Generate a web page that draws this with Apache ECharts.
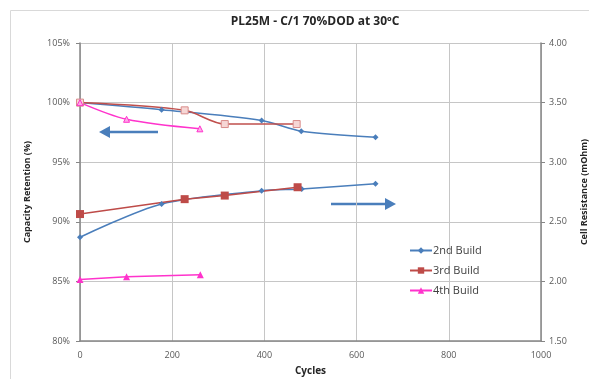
<!DOCTYPE html>
<html>
<head>
<meta charset="utf-8">
<script src="https://cdn.jsdelivr.net/npm/echarts@6/dist/echarts.min.js"></script>
<style>
  html, body { margin: 0; padding: 0; background: #fff; }
  #chart { width: 589px; height: 379px; }
</style>
</head>
<body>
<div id="chart"></div>
<script>
// 容量保持率 (左轴, %)  [cycles, value]
const cap2nd = [[0, 100], [177, 99.4], [394, 98.5], [480, 97.6], [641, 97.1]];
const cap3rd = [[0, 100], [227, 99.35], [314, 98.2], [470, 98.2]];
const cap4th = [[0, 100], [101, 98.6], [260, 97.8]];
// 内阻 (右轴, mOhm)
const res2nd = [[0, 2.37], [177, 2.65], [394, 2.76], [481, 2.775], [641, 2.82]];
const res3rd = [[0, 2.565], [227, 2.69], [314, 2.72], [472, 2.79]];
const res4th = [[0, 2.015], [101, 2.04], [261, 2.055]];

const xTicks = [0, 200, 400, 600, 800, 1000];
const capTicks = [80, 85, 90, 95, 100, 105];
const resTicks = [1.5, 2.0, 2.5, 3.0, 3.5, 4.0];

const blue = "#4a7ebb";
const red = "#be4b48";
const pink = "#ff33cc";
const labelColor = "#595959";

const chart = echarts.init(document.getElementById("chart"));

chart.setOption({
  animation: false,
  textStyle: { fontFamily: "Open Sans" },
  title: {
    text: "PL25M - C/1 70%DOD at 30ºC",
    left: 310,
    top: 11,
    textAlign: "center",
    textStyle: { fontSize: 12, fontWeight: "bold", color: "#262626", fontFamily: "Open Sans" },
  },
  legend: {
    orient: "vertical",
    left: 404,
    top: 240,
    itemGap: 9,
    itemWidth: 22,
    itemHeight: 8,
    data: ["2nd Build", "3rd Build", "4th Build"],
    textStyle: { fontSize: 11, color: "#404040", padding: [0, 0, 0, -4] },
  },
  grid: { left: 80, right: 48, top: 43, bottom: 38, containLabel: false, outerBoundsMode: "none" },
  xAxis: {
    type: "value",
    min: xTicks[0],
    max: xTicks[xTicks.length - 1],
    interval: 200,
    name: "Cycles",
    nameLocation: "middle",
    nameGap: 25,
    nameTextStyle: { fontSize: 10, fontWeight: "bold", color: "#262626" },
    axisLine: { lineStyle: { color: "#868686", width: 1.5 } },
    axisTick: { show: false },
    axisLabel: { fontSize: 9, color: labelColor, margin: 10, formatter: (v) => String(v) },
    splitLine: { lineStyle: { color: "#c6c6c6", width: 1 } },
  },
  yAxis: [
    {
      type: "value",
      min: capTicks[0],
      max: capTicks[capTicks.length - 1],
      interval: 5,
      name: "Capacity Retention (%)",
      nameLocation: "middle",
      nameGap: 48,
      nameTextStyle: { fontSize: 9, fontWeight: "bold", color: "#262626" },
      axisLine: { show: true, lineStyle: { color: "#868686", width: 1.5 } },
      axisTick: { show: true, length: 4, lineStyle: { color: "#868686" } },
      axisLabel: { fontSize: 9, color: labelColor, formatter: "{value}%", margin: 10 },
      splitLine: { lineStyle: { color: "#c6c6c6", width: 1 } },
    },
    {
      type: "value",
      min: resTicks[0],
      max: resTicks[resTicks.length - 1],
      interval: 0.5,
      name: "Cell Resistance (mOhm)",
      nameLocation: "middle",
      nameGap: 39,
      nameRotate: 90,
      nameTextStyle: { fontSize: 9, fontWeight: "bold", color: "#262626" },
      axisLine: { show: true, lineStyle: { color: "#868686", width: 1.5 } },
      axisTick: { show: true, length: 4, lineStyle: { color: "#868686" } },
      axisLabel: { fontSize: 9, color: labelColor, formatter: (v) => v.toFixed(2), margin: 8 },
      splitLine: { show: false },
    },
  ],
  graphic: [
    // 外框
    { type: "rect", left: 8, top: 8, shape: { width: 620, height: 420 }, style: { fill: null, stroke: "#d9d9d9", lineWidth: 1 }, silent: true },
    // 左箭头 (容量)
    { type: "line", shape: { x1: 108, y1: 132, x2: 158, y2: 132 }, style: { stroke: blue, lineWidth: 2.5 } },
    { type: "polygon", shape: { points: [[99, 132], [110, 126], [110, 138]] }, style: { fill: blue } },
    // 右箭头 (内阻)
    { type: "line", shape: { x1: 331, y1: 204, x2: 387, y2: 204 }, style: { stroke: blue, lineWidth: 2.5 } },
    { type: "polygon", shape: { points: [[396, 204], [385, 198], [385, 210]] }, style: { fill: blue } },
  ],
  series: [
    // 内阻曲线放前面, 图例图标取实心标记
    {
      name: "2nd Build", type: "line", yAxisIndex: 1, data: res2nd, smooth: 0.3,
      symbol: "diamond", symbolSize: 6,
      lineStyle: { color: blue, width: 1.5 }, itemStyle: { color: blue },
    },
    {
      name: "3rd Build", type: "line", yAxisIndex: 1, data: res3rd,
      symbol: "rect", symbolSize: 8,
      lineStyle: { color: red, width: 1.5 }, itemStyle: { color: red },
    },
    {
      name: "4th Build", type: "line", yAxisIndex: 1, data: res4th,
      symbol: "triangle", symbolSize: 7,
      lineStyle: { color: pink, width: 1.5 }, itemStyle: { color: pink },
    },
    {
      name: "2nd Build", type: "line", yAxisIndex: 0, data: cap2nd, smooth: 0.3,
      symbol: "diamond", symbolSize: 6,
      lineStyle: { color: blue, width: 1.5 }, itemStyle: { color: blue },
    },
    {
      name: "3rd Build", type: "line", yAxisIndex: 0, data: cap3rd, smooth: 0.3,
      symbol: "rect", symbolSize: 7,
      lineStyle: { color: "#c0504d", width: 1.5 }, itemStyle: { color: "#f6d6d5", borderColor: "#d98c8a", borderWidth: 1 },
    },
    {
      name: "4th Build", type: "line", yAxisIndex: 0, data: cap4th, smooth: 0.3,
      symbol: "triangle", symbolSize: 6,
      lineStyle: { color: pink, width: 1.5 }, itemStyle: { color: "#ffa8e8", borderColor: pink, borderWidth: 1 },
    },
  ],
});
</script>
</body>
</html>
